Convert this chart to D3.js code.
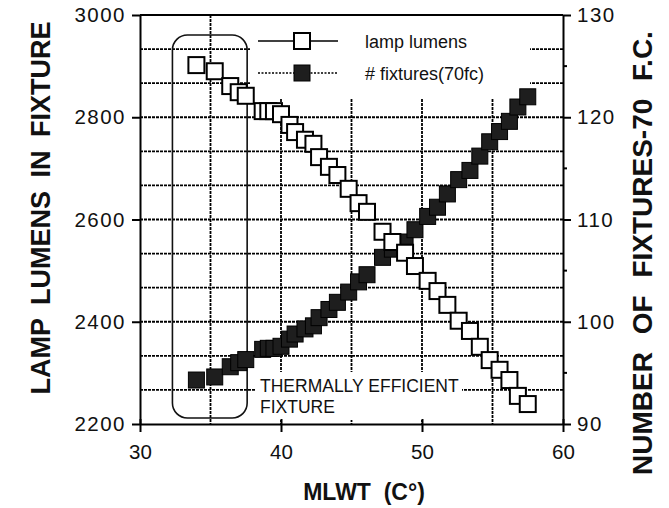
<!DOCTYPE html>
<html>
<head>
<meta charset="utf-8">
<script src="https://cdn.jsdelivr.net/npm/d3@7"></script>
<style>
  body { margin: 0; background: #fff; }
  svg { font-family: "Liberation Sans", Arial, Helvetica, sans-serif; }
  .grid line { stroke: #000; stroke-width: 1.8; stroke-dasharray: 3,1; }
  .axis path, .axis line { stroke: #000; stroke-width: 2; }
  .axis text { font-size: 20.5px; fill: #111; }
  .axis.y text { letter-spacing: 1.5px; }
  .title { font-weight: bold; fill: #111; }
</style>
</head>
<body>
<script>
// MLWT (deg C) for each measured point
var mlwt = [34.0, 35.3, 36.4, 37.0, 37.5, 38.7, 39.1, 39.5, 40.0, 40.6, 41.0, 41.7,
            42.3, 42.7, 43.4, 44.0, 44.8, 45.5, 46.1, 47.2, 47.9, 48.8, 49.5, 50.4,
            51.1, 51.8, 52.6, 53.4, 54.1, 54.8, 55.5, 56.2, 56.8, 57.5];
// lamp lumens in fixture (left axis)
var lumens = [2902, 2890, 2861, 2849, 2842, 2812, 2812, 2812, 2806, 2785, 2771, 2756,
              2748, 2722, 2703, 2687, 2660, 2632, 2615, 2576, 2556, 2535, 2509, 2480,
              2460, 2433, 2402, 2382, 2351, 2325, 2306, 2286, 2255, 2239];
// number of fixtures for 70 fc (right axis)
var fixtures = [94.3, 94.6, 95.6, 96.0, 96.3, 97.3, 97.4, 97.4, 97.6, 98.3, 98.8, 99.3,
                99.6, 100.4, 101.2, 101.9, 102.9, 103.9, 104.6, 106.3, 107.1, 107.8, 109.0, 110.3,
                111.2, 112.5, 113.9, 114.8, 116.2, 117.6, 118.6, 119.6, 121.0, 122.0];

var xTicks = [30, 40, 50, 60];
var xGrid = [35, 40, 45, 50, 55];
var leftTicks = [2200, 2400, 2600, 2800, 3000];
var rightTicks = [90, 100, 110, 120, 130];
var rightMinor = [95, 105, 115, 125];
var seriesNames = ["lamp lumens", "# fixtures(70fc)"];

var width = 669, height = 508;
var margin = {top: 15, right: 106, bottom: 84, left: 140};

var svg = d3.select("body").append("svg")
    .attr("width", width)
    .attr("height", height);

var x = d3.scaleLinear().domain([30, 60]).range([margin.left, width - margin.right]);
var yL = d3.scaleLinear().domain([2200, 3000]).range([height - margin.bottom, margin.top]);
var yR = d3.scaleLinear().domain([90, 130]).range([height - margin.bottom, margin.top]);

var pts = mlwt.map(function(m, i) { return {x: m, lum: lumens[i], fix: fixtures[i]}; });

// grid: 12 horizontal divisions, vertical every 5 deg
var hGrid = d3.range(1, 12).map(function(i) { return 2200 + i * 800 / 12; });
var grid = svg.append("g").attr("class", "grid");
grid.selectAll(".h").data(hGrid).enter().append("line")
    .attr("x1", x(30)).attr("x2", x(60))
    .attr("y1", d => yL(d)).attr("y2", d => yL(d));
grid.selectAll(".v").data(xGrid).enter().append("line")
    .attr("x1", d => x(d)).attr("x2", d => x(d))
    .attr("y1", yL(3000)).attr("y2", yL(2200));

// white legend backdrop and annotation backdrop
svg.append("rect").attr("x", 250).attr("y", margin.top + 1)
    .attr("width", 280).attr("height", 82).attr("fill", "#fff");
svg.append("rect").attr("x", 255).attr("y", 372)
    .attr("width", 207).attr("height", 48).attr("fill", "#fff");

// rounded box around the thermally efficient fixture
svg.append("rect")
    .attr("x", x(32.3)).attr("y", 35)
    .attr("width", x(37.6) - x(32.3)).attr("height", 383)
    .attr("rx", 15).attr("ry", 15)
    .attr("fill", "none").attr("stroke", "#111").attr("stroke-width", 1.6);

// axes
var gx = svg.append("g").attr("class", "axis")
    .attr("transform", "translate(0," + yL(2200) + ")")
    .call(d3.axisBottom(x).tickValues(xTicks).tickSize(8).tickSizeOuter(0).tickPadding(12));
gx.selectAll(".tick line").attr("y1", -5);

var gl = svg.append("g").attr("class", "axis y")
    .attr("transform", "translate(" + x(30) + ",0)")
    .call(d3.axisLeft(yL).tickValues(leftTicks).tickFormat(d3.format("d"))
      .tickSize(8).tickSizeOuter(0).tickPadding(6));

var gr = svg.append("g").attr("class", "axis y")
    .attr("transform", "translate(" + x(60) + ",0)")
    .call(d3.axisRight(yR).tickValues(rightTicks).tickFormat(d3.format("d"))
      .tickSize(8).tickSizeOuter(0).tickPadding(6));
gr.selectAll(".minor").data(rightMinor).enter().append("line")
    .attr("x1", 0).attr("x2", 4)
    .attr("y1", d => yR(d)).attr("y2", d => yR(d))
    .attr("stroke", "#000").attr("stroke-width", 1.5);

// top frame line
svg.append("line")
    .attr("x1", x(30)).attr("x2", x(60))
    .attr("y1", yL(3000)).attr("y2", yL(3000))
    .attr("stroke", "#000").attr("stroke-width", 2);

// data markers
var s = 16;
svg.append("g").selectAll("rect").data(pts).enter().append("rect")
    .attr("x", d => x(d.x) - s / 2).attr("y", d => yR(d.fix) - s / 2)
    .attr("width", s).attr("height", s)
    .attr("fill", "#1e1e1e").attr("stroke", "#000").attr("stroke-width", 1);

svg.append("g").selectAll("rect").data(pts).enter().append("rect")
    .attr("x", d => x(d.x) - s / 2).attr("y", d => yL(d.lum) - s / 2)
    .attr("width", s).attr("height", s)
    .attr("fill", "#fff").attr("stroke", "#000").attr("stroke-width", 2);

// legend
var lg = svg.append("g");
lg.append("line").attr("x1", 258).attr("x2", 338).attr("y1", 41).attr("y2", 41)
    .attr("stroke", "#000").attr("stroke-width", 1.5);
lg.append("rect").attr("x", 302 - s / 2).attr("y", 41 - s / 2).attr("width", s).attr("height", s)
    .attr("fill", "#fff").attr("stroke", "#000").attr("stroke-width", 2);
lg.append("line").attr("x1", 258).attr("x2", 338).attr("y1", 73).attr("y2", 73)
    .attr("stroke", "#000").attr("stroke-width", 1.5).attr("stroke-dasharray", "2,1.5");
lg.append("rect").attr("x", 302 - s / 2).attr("y", 73 - s / 2).attr("width", s).attr("height", s)
    .attr("fill", "#1e1e1e").attr("stroke", "#000").attr("stroke-width", 1);
lg.selectAll("text").data(seriesNames).enter().append("text")
    .attr("x", 365).attr("y", (d, i) => 48 + i * 32)
    .attr("font-size", 18).attr("fill", "#111")
    .text(d => d);

// annotation
svg.append("text").attr("x", 260).attr("y", 392).attr("font-size", 17.5).attr("fill", "#111")
    .text("THERMALLY EFFICIENT");
svg.append("text").attr("x", 260).attr("y", 413).attr("font-size", 17.5).attr("fill", "#111")
    .text("FIXTURE");

// axis titles
svg.append("text").attr("class", "title")
    .attr("transform", "translate(50,208) rotate(-90)")
    .attr("text-anchor", "middle").attr("font-size", 27)
    .attr("word-spacing", 6)
    .text("LAMP LUMENS IN FIXTURE");
svg.append("text").attr("class", "title")
    .attr("transform", "translate(652,253) rotate(-90)")
    .attr("text-anchor", "middle").attr("font-size", 28)
    .attr("word-spacing", 10)
    .text("NUMBER OF FIXTURES-70 F.C.");
svg.append("text").attr("class", "title")
    .attr("x", 364).attr("y", 500)
    .attr("text-anchor", "middle").attr("font-size", 23)
    .attr("xml:space", "preserve")
    .text("MLWT  (C°)");
</script>
</body>
</html>
